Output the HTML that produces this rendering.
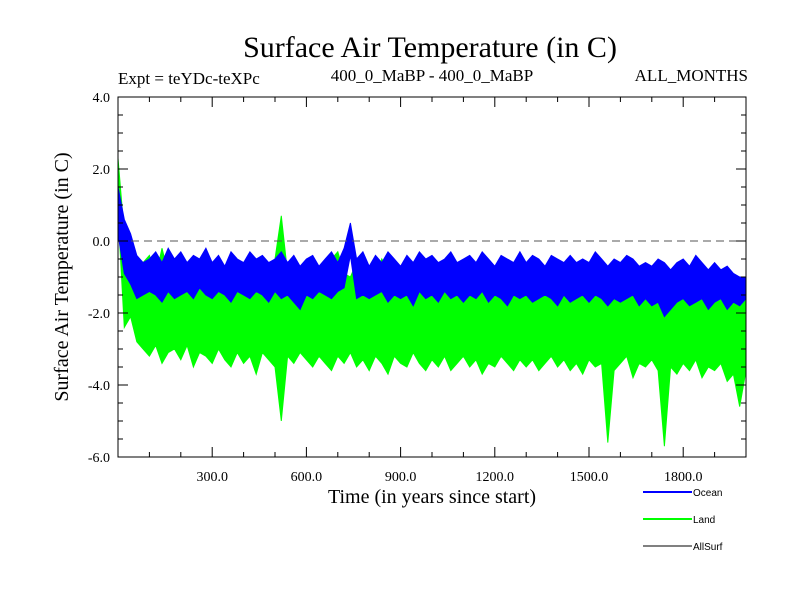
<!DOCTYPE html>
<html><head><meta charset="utf-8"><style>
body{margin:0;background:#fff;}
svg{display:block;font-family:"Liberation Serif",serif;}
</style></head><body>
<svg id="chart" width="800" height="600" viewBox="0 0 800 600">
<rect width="800" height="600" fill="#fff"/>
<text x="430" y="57" font-size="30" text-anchor="middle">Surface Air Temperature (in C)</text>
<text x="118" y="84" font-size="17">Expt = teYDc-teXPc</text>
<text x="432" y="81" font-size="17" text-anchor="middle">400_0_MaBP - 400_0_MaBP</text>
<text x="748" y="81" font-size="17" text-anchor="end">ALL_MONTHS</text>
<text transform="translate(68,277) rotate(-90)" font-size="20" text-anchor="middle">Surface Air Temperature (in C)</text>
<text x="432" y="503" font-size="20" text-anchor="middle">Time (in years since start)</text>
<g id="plot"></g>
<g id="axes"></g>
<g font-family="Liberation Sans,sans-serif" font-size="10">
<g><line x1="643" y1="492" x2="692" y2="492" stroke="#0000ff" stroke-width="2"/><text x="693" y="496">Ocean</text></g>
<g><line x1="643" y1="519" x2="692" y2="519" stroke="#00ff00" stroke-width="2"/><text x="693" y="523">Land</text></g>
<g><line x1="643" y1="546" x2="692" y2="546" stroke="#000" stroke-width="1"/><text x="693" y="550">AllSurf</text></g>
</g>
</svg>
<script>
const landHigh=[2.3,0.2,-0.5,-0.6,-0.6,-0.4,-1.0,-0.2,-0.9,-0.6,
-1.0,-0.7,-0.9,-0.5,-0.9,-0.6,-1.0,-0.8,-0.6,-1.0,
-0.7,-0.9,-0.6,-1.1,-0.8,-0.5,0.7,-0.9,-0.7,-1.0,
-0.8,-0.6,-1.1,-0.7,-0.5,-0.3,-0.9,-1.0,-0.6,-0.9,
-0.7,-1.0,-0.5,-0.8,-1.0,-0.7,-0.9,-0.6,-1.1,-0.8,
-1.0,-0.7,-0.9,-1.1,-0.8,-1.0,-0.7,-0.9,-0.6,-1.0,
-0.8,-1.1,-0.7,-0.9,-1.0,-0.8,-0.6,-1.0,-0.8,-1.1,
-0.9,-0.7,-1.0,-0.8,-1.0,-0.6,-0.9,-1.0,-1.0,-0.8,
-1.1,-0.9,-0.7,-1.0,-0.9,-1.1,-0.8,-1.2,-0.9,-1.0,
-0.8,-1.1,-0.9,-1.0,-1.1,-0.9,-1.2,-1.0,-1.3,-1.2,-1.2];
const landLow=[0.8,-2.4,-2.1,-2.8,-3.0,-3.2,-2.9,-3.4,-3.1,-3.0,
-3.3,-2.9,-3.5,-3.1,-3.2,-3.4,-3.0,-3.3,-3.5,-3.1,
-3.4,-3.2,-3.7,-3.1,-3.3,-3.5,-5.0,-3.2,-3.4,-3.1,
-3.3,-3.5,-3.2,-3.4,-3.6,-3.2,-3.4,-3.1,-3.5,-3.3,
-3.6,-3.2,-3.4,-3.7,-3.2,-3.4,-3.5,-3.1,-3.4,-3.6,
-3.3,-3.5,-3.2,-3.6,-3.4,-3.2,-3.5,-3.3,-3.7,-3.4,
-3.5,-3.2,-3.4,-3.6,-3.3,-3.5,-3.3,-3.6,-3.4,-3.2,
-3.5,-3.3,-3.6,-3.4,-3.7,-3.3,-3.5,-3.4,-5.6,-3.6,
-3.4,-3.2,-3.8,-3.4,-3.5,-3.3,-3.6,-5.7,-3.5,-3.7,
-3.4,-3.6,-3.3,-3.8,-3.5,-3.6,-3.4,-3.9,-3.7,-4.6,-3.6];
const oceanHigh=[1.5,0.6,0.2,-0.4,-0.6,-0.5,-0.3,-0.6,-0.2,-0.5,
-0.3,-0.6,-0.4,-0.5,-0.2,-0.6,-0.4,-0.7,-0.3,-0.5,
-0.6,-0.3,-0.5,-0.4,-0.6,-0.5,-0.3,-0.6,-0.4,-0.7,
-0.5,-0.4,-0.7,-0.5,-0.3,-0.6,-0.2,0.5,-0.5,-0.3,
-0.7,-0.4,-0.6,-0.3,-0.5,-0.7,-0.4,-0.6,-0.3,-0.5,
-0.4,-0.6,-0.5,-0.3,-0.6,-0.5,-0.4,-0.6,-0.3,-0.5,
-0.7,-0.4,-0.5,-0.6,-0.3,-0.6,-0.4,-0.5,-0.7,-0.4,
-0.5,-0.6,-0.4,-0.6,-0.5,-0.6,-0.3,-0.5,-0.7,-0.5,
-0.6,-0.4,-0.5,-0.7,-0.6,-0.7,-0.5,-0.6,-0.8,-0.6,
-0.5,-0.7,-0.4,-0.6,-0.8,-0.6,-0.8,-0.7,-0.9,-1.0,-1.0];
const oceanLow=[0.2,-0.9,-1.2,-1.6,-1.5,-1.4,-1.5,-1.7,-1.4,-1.6,
-1.5,-1.4,-1.6,-1.3,-1.5,-1.6,-1.4,-1.5,-1.7,-1.4,
-1.5,-1.6,-1.4,-1.5,-1.7,-1.4,-1.6,-1.5,-1.7,-1.9,
-1.5,-1.6,-1.4,-1.5,-1.6,-1.4,-1.3,-0.4,-1.6,-1.5,
-1.6,-1.5,-1.4,-1.7,-1.5,-1.6,-1.5,-1.8,-1.4,-1.6,
-1.5,-1.7,-1.4,-1.6,-1.5,-1.7,-1.5,-1.6,-1.4,-1.7,
-1.5,-1.6,-1.8,-1.5,-1.6,-1.5,-1.7,-1.6,-1.5,-1.6,
-1.8,-1.5,-1.7,-1.6,-1.5,-1.7,-1.5,-1.6,-1.8,-1.6,
-1.7,-1.6,-1.5,-1.8,-1.6,-1.8,-1.7,-2.1,-1.9,-1.7,
-1.6,-1.8,-1.7,-1.6,-1.9,-1.7,-1.6,-1.9,-1.7,-1.8,-1.6];
const yearStep=20;
const xTickValues=[300,600,900,1200,1500,1800];
const xTickLabels=["300.0","600.0","900.0","1200.0","1500.0","1800.0"];
const yTickValues=[4,2,0,-2,-4,-6];
const yTickLabels=["4.0","2.0","0.0","-2.0","-4.0","-6.0"];

const L=118,R=746,T=97,B=457,X0=0,X1=2000,Y0=-6,Y1=4;
const xs=v=>L+(v-X0)/(X1-X0)*(R-L);
const ys=v=>B-(v-Y0)/(Y1-Y0)*(B-T);
const NS="http://www.w3.org/2000/svg";
const plot=document.getElementById('plot'),axes=document.getElementById('axes');
function mk(tag,attrs,parent){const e=document.createElementNS(NS,tag);for(const k in attrs)e.setAttribute(k,attrs[k]);parent.appendChild(e);return e;}
function band(hi,lo,color,name){
  const up=hi.map((v,i)=>xs(i*yearStep).toFixed(1)+','+ys(v).toFixed(1));
  const dn=lo.map((v,i)=>xs(i*yearStep).toFixed(1)+','+ys(v).toFixed(1)).reverse();
  const p=mk('polygon',{points:up.concat(dn).join(' '),fill:color,stroke:color,'stroke-width':1,'stroke-linejoin':'miter'},plot);
  
  
}
band(landHigh,landLow,'#00ff00','land-series');
band(oceanHigh,oceanLow,'#0000ff','ocean-series');
const zl=mk('line',{x1:L,x2:R,y1:ys(0),y2:ys(0),stroke:'#555','stroke-dasharray':'8 5','stroke-width':1},plot);


const fr=mk('rect',{x:L,y:T,width:R-L,height:B-T,fill:'none',stroke:'#000','stroke-width':1},axes);


for(let v=100;v<X1;v+=100){
  const big=v%300===0;const len=big?10:5;
  mk('line',{x1:xs(v),x2:xs(v),y1:B,y2:B-len,stroke:'#000'},axes);
  mk('line',{x1:xs(v),x2:xs(v),y1:T,y2:T+len,stroke:'#000'},axes);
}
xTickValues.forEach((v,i)=>{
  const t=mk('text',{x:xs(v),y:B+24,'font-size':14,'text-anchor':'middle'},axes);t.textContent=xTickLabels[i];
  
  
});
for(let v=Y0+0.5;v<Y1;v+=0.5){
  const big=Math.abs(v%2)<1e-9;const len=big?10:5;
  mk('line',{x1:L,x2:L+len,y1:ys(v),y2:ys(v),stroke:'#000'},axes);
  mk('line',{x1:R,x2:R-len,y1:ys(v),y2:ys(v),stroke:'#000'},axes);
}
yTickValues.forEach((v,i)=>{
  const t=mk('text',{x:L-8,y:ys(v)+5,'font-size':14,'text-anchor':'end'},axes);t.textContent=yTickLabels[i];
  
  
});
</script>
</body></html>
